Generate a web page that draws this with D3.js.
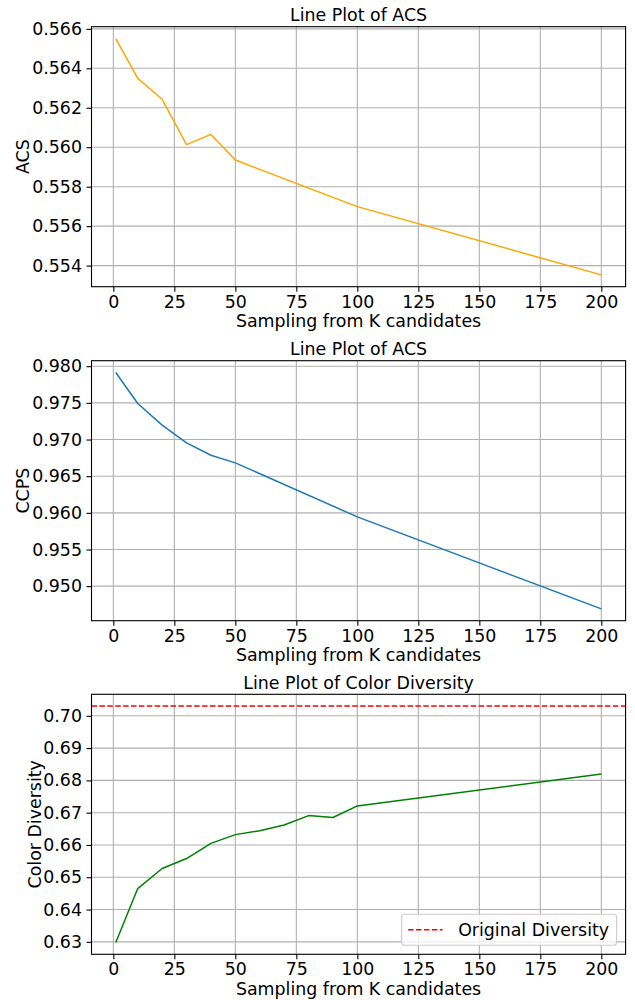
<!DOCTYPE html>
<html>
<head>
<meta charset="utf-8">
<script src="https://cdn.jsdelivr.net/npm/d3@7"></script>
<style>
  body { margin: 0; background: #fff; }
  svg { font-family: "DejaVu Sans", sans-serif; }
</style>
</head>
<body>
<svg id="chart"></svg>
<script>
// chart data
var kAcs = [1, 10, 20, 30, 40, 50, 100, 200];
var acs = [0.56551, 0.56349, 0.56243, 0.56013, 0.56065, 0.55935, 0.55699, 0.55353];
var ccps = [0.97914, 0.97491, 0.97196, 0.96954, 0.96786, 0.96682, 0.95945, 0.94690];
var kDiv = [1, 10, 20, 30, 40, 50, 60, 70, 80, 90, 100, 200];
var diversity = [0.6298, 0.6465, 0.6527, 0.6558, 0.6605, 0.6632, 0.6644, 0.6662, 0.6691, 0.6685, 0.6721, 0.6820];
var originalDiversity = 0.703;

var xTicks = [0, 25, 50, 75, 100, 125, 150, 175, 200];
var acsTicks = [0.554, 0.556, 0.558, 0.560, 0.562, 0.564, 0.566];
var ccpsTicks = [0.950, 0.955, 0.960, 0.965, 0.970, 0.975, 0.980];
var divTicks = [0.63, 0.64, 0.65, 0.66, 0.67, 0.68, 0.69, 0.70];

var width = 635,
    height = 1000,
    fontSize = 17.4;

var svg = d3.select("#chart")
    .attr("width", width)
    .attr("height", height);

// matplotlib style 5% margin around the data
function padded(lo, hi) {
  var m = (hi - lo) * 0.05;
  return [lo - m, hi + m];
}

function panel(opts) {
  var left = 91.5, right = 625.6;
  var top = opts.top, bottom = opts.top + 260;

  var x = d3.scaleLinear().domain(padded(1, 200)).range([left, right]);
  var ext = d3.extent(opts.extra ? opts.values.concat(opts.extra) : opts.values);
  var y = d3.scaleLinear().domain(padded(ext[0], ext[1])).range([bottom, top]);

  var g = svg.append("g");

  // grid
  g.append("g").selectAll("line")
      .data(xTicks)
    .enter().append("line")
      .attr("x1", function(d) { return x(d); })
      .attr("x2", function(d) { return x(d); })
      .attr("y1", top).attr("y2", bottom)
      .attr("stroke", "#b0b0b0").attr("stroke-width", 1.1);
  g.append("g").selectAll("line")
      .data(opts.yTicks)
    .enter().append("line")
      .attr("y1", function(d) { return y(d); })
      .attr("y2", function(d) { return y(d); })
      .attr("x1", left).attr("x2", right)
      .attr("stroke", "#b0b0b0").attr("stroke-width", 1.1);

  // axes
  var xAxis = g.append("g")
      .attr("transform", "translate(0," + bottom + ")")
      .call(d3.axisBottom(x).tickValues(xTicks).tickSize(5).tickPadding(3.5));
  var yAxis = g.append("g")
      .attr("transform", "translate(" + left + ",0)")
      .call(d3.axisLeft(y).tickValues(opts.yTicks).tickFormat(d3.format(opts.fmt)).tickSize(5).tickPadding(4.5));
  [xAxis, yAxis].forEach(function(a) {
    a.select(".domain").remove();
    a.selectAll("line").attr("stroke", "#000").attr("stroke-width", 1.1);
    a.selectAll("text")
        .attr("fill", "#000")
        .style("font-size", fontSize + "px")
        .style("font-family", "DejaVu Sans");
  });

  // data line
  var line = d3.line()
      .x(function(d, i) { return x(opts.keys[i]); })
      .y(function(d) { return y(d); });
  g.append("path")
      .datum(opts.values)
      .attr("fill", "none")
      .attr("stroke", opts.color)
      .attr("stroke-width", 1.5)
      .attr("stroke-linejoin", "round")
      .attr("d", line);

  if (opts.extra) {
    g.append("line")
        .attr("x1", left).attr("x2", right)
        .attr("y1", y(opts.extra)).attr("y2", y(opts.extra))
        .attr("stroke", "#ff0000")
        .attr("stroke-width", 1.5)
        .attr("stroke-dasharray", "5.5,2.4");
  }

  // frame
  g.append("rect")
      .attr("x", left).attr("y", top)
      .attr("width", right - left).attr("height", bottom - top)
      .attr("fill", "none").attr("stroke", "#000").attr("stroke-width", 1.1);

  // title and labels
  g.append("text")
      .attr("x", (left + right) / 2).attr("y", top - 5.5)
      .attr("text-anchor", "middle")
      .style("font-size", fontSize + "px")
      .text(opts.title);
  g.append("text")
      .attr("x", (left + right) / 2).attr("y", bottom + 40.5)
      .attr("text-anchor", "middle")
      .style("font-size", fontSize + "px")
      .text("Sampling from K candidates");
  g.append("text")
      .attr("transform", "translate(" + opts.ylabelX + "," + (top + bottom) / 2 + ") rotate(-90)")
      .attr("text-anchor", "middle")
      .attr("dy", "0.35em")
      .style("font-size", fontSize + "px")
      .text(opts.ylabel);

  if (opts.legend) {
    var lg = g.append("g");
    var box = lg.append("rect");
    var label = lg.append("text")
        .style("font-size", fontSize + "px")
        .text(opts.legend);
    var tw = label.node().getComputedTextLength();
    var bw = tw + 64, bh = 31;
    var bx = right - 9 - bw, by = bottom - 9 - bh;
    box.attr("x", bx).attr("y", by)
        .attr("width", bw).attr("height", bh)
        .attr("rx", 3)
        .attr("fill", "#fff").attr("fill-opacity", 0.8)
        .attr("stroke", "#cccccc").attr("stroke-width", 1.1);
    lg.append("line")
        .attr("x1", bx + 6.5).attr("x2", bx + 41)
        .attr("y1", by + bh / 2).attr("y2", by + bh / 2)
        .attr("stroke", "#ff0000")
        .attr("stroke-width", 1.5)
        .attr("stroke-dasharray", "5.5,2.4");
    label.attr("x", bx + 56.5).attr("y", by + bh / 2).attr("dy", "0.35em");
  }
}

panel({ top: 26.7, keys: kAcs, values: acs, color: "orange", yTicks: acsTicks, fmt: ".3f",
        title: "Line Plot of ACS", ylabel: "ACS", ylabelX: 22.5 });
panel({ top: 360.7, keys: kAcs, values: ccps, color: "#1f77b4", yTicks: ccpsTicks, fmt: ".3f",
        title: "Line Plot of ACS", ylabel: "CCPS", ylabelX: 22.5 });
panel({ top: 694.3, keys: kDiv, values: diversity, color: "green", yTicks: divTicks, fmt: ".2f",
        title: "Line Plot of Color Diversity", ylabel: "Color Diversity", ylabelX: 34.5,
        extra: originalDiversity, legend: "Original Diversity" });
</script>
</body>
</html>
